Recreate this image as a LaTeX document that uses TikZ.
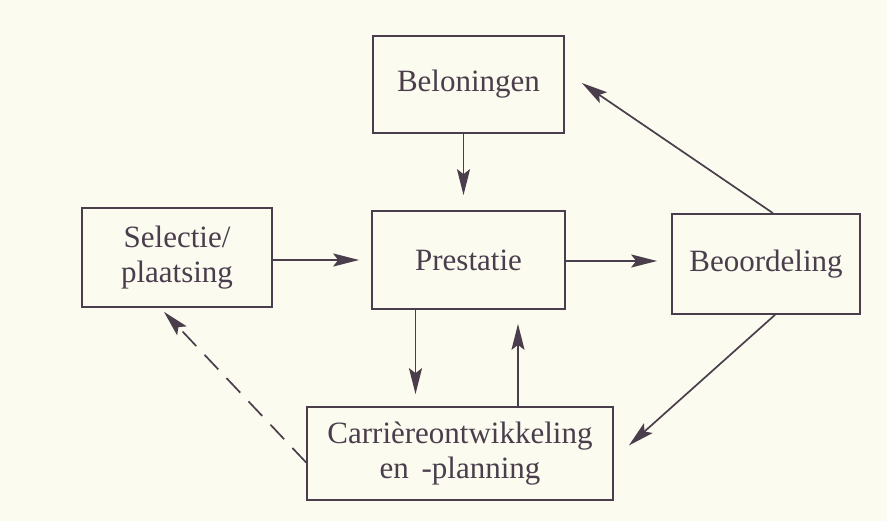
\documentclass[tikz,border=0pt]{standalone}
\usepackage{fontspec}
\setmainfont{Liberation Serif}
\usetikzlibrary{arrows.meta}
\definecolor{ink}{RGB}{74,62,76}
\definecolor{paper}{RGB}{252,251,240}

\begin{document}
\begin{tikzpicture}[x=1pt,y=-1pt,
  box/.style={draw=ink,line width=1.7pt,text=ink,align=center,inner sep=0pt,
    font=\fontsize{31}{35}\selectfont},
  arr/.style={draw=ink,line width=1.7pt,-{Stealth[length=26pt,width=13pt,inset=5pt]}}]
\fill[paper] (0,0) rectangle (887,521);
\useasboundingbox (0,0) rectangle (887,521);
\node[box,minimum width=191pt,minimum height=97pt] (bel) at (468.5,84.5){Beloningen};
\node[box,minimum width=193pt,minimum height=98pt] (pres) at (468.5,260){Prestatie};
\node[box,minimum width=190pt,minimum height=99pt] (sel) at (177,257.5){Selectie/\\plaatsing};
\node[box,minimum width=188pt,minimum height=100pt] (beo) at (766,264){Beoordeling};
\node[box,minimum width=306pt,minimum height=93pt] (car) at (460,453.5){Carri\`ereontwikkeling\\en\ \,-planning};
\draw[arr,shorten >=15pt] ([xshift=-5pt]bel.south) -- ([xshift=-5pt]pres.north);
\draw[arr,shorten >=12pt] ([yshift=-2.5pt]sel.east) -- ([yshift=-2.5pt]sel.east -| pres.west);
\draw[arr,shorten >=14pt] ([yshift=-1pt]pres.east) -- ([yshift=-1pt]pres.east -| beo.west);
\draw[arr] ([xshift=7pt]beo.north) -- ([xshift=17pt,yshift=1.5pt]bel.east);
\draw[arr] ([xshift=9pt]beo.south) -- ([xshift=15pt,yshift=8pt]car.east);
\draw[arr,shorten >=12pt] ([xshift=-53pt]pres.south) -- ([xshift=-53pt]pres.south |- car.north);
\draw[arr,shorten >=14pt] ([xshift=58pt]car.north) -- ([xshift=58pt]car.north |- pres.south);
\draw[arr,dash pattern=on 20pt off 12pt] ([yshift=-9pt]car.west) -- ([xshift=-13pt,yshift=-4pt]sel.south);
\end{tikzpicture}
\end{document}
